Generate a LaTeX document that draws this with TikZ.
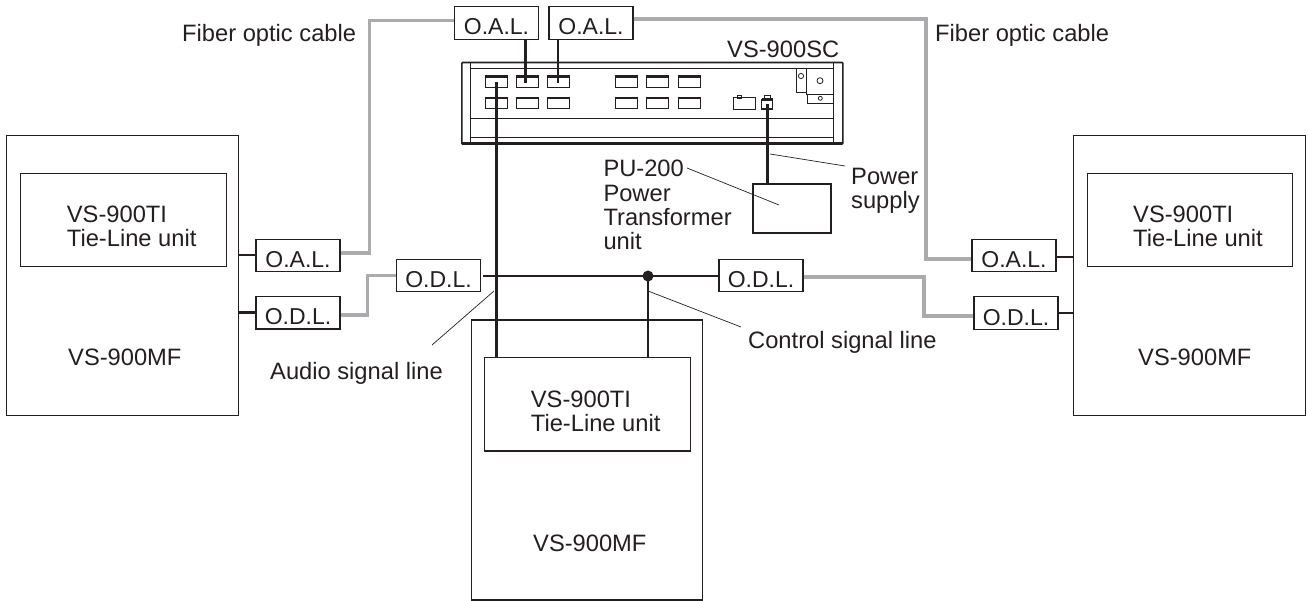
\documentclass[tikz,border=0pt]{standalone}
\usepackage{fontspec}
\setmainfont{Liberation Sans}
\definecolor{ink}{HTML}{231F20}
\definecolor{fiber}{HTML}{ABABAE}
\tikzset{
  every node/.style={text=ink},
  lab/.style={font=\fontsize{23.7}{28}\selectfont,anchor=base west,inner sep=0pt},
  big/.style={draw=ink,line width=1.1pt,inner sep=0pt,rectangle},
  link/.style={big,font=\fontsize{23}{27}\selectfont,minimum width=84pt,minimum height=32.5pt,text height=24pt,text depth=0pt,inner ysep=3.5pt,inner xsep=0pt},
  sig/.style={draw=ink,line width=2.6pt},
  fib/.style={draw=fiber,line width=3.6pt},
  lead/.style={draw=ink,line width=0.7pt},
  portb/.style={draw=ink,line width=1.1pt,minimum width=22pt,minimum height=11.3pt,inner sep=0pt,rectangle},
  thin/.style={draw=ink,line width=0.8pt}
}
\begin{document}
\begin{tikzpicture}[x=1pt,y=-1pt]
\useasboundingbox (0,0) rectangle (1308,601);
% big units
\node[big,minimum width=232pt,minimum height=280pt] (mfL) at (122.7,275.7) {};
\node[big,minimum width=205.7pt,minimum height=93.4pt] (tiL) at (123.2,220) {};
\node[big,minimum width=232pt,minimum height=280pt] (mfR) at (1189.7,275.7) {};
\node[big,minimum width=205.7pt,minimum height=93.4pt] (tiR) at (1189.9,220) {};
\node[big,minimum width=231.3pt,minimum height=280pt] (mfB) at (586.7,460) {};
\node[big,minimum width=205.7pt,minimum height=93.3pt] (tiB) at (587.2,404.3) {};
% links
\node[link] (oalT1) at (496.5,23) {O.A.L.};
\node[link] (oalT2) at (591,23) {O.A.L.};
\node[link] (oalL) at (298,255.5) {O.A.L.};
\node[link] (odlL) at (298,312.75) {O.D.L.};
\node[link] (odlM1) at (438.5,275.5) {O.D.L.};
\node[link] (odlM2) at (761,275.5) {O.D.L.};
\node[link] (oalR) at (1014,255.5) {O.A.L.};
\node[link] (odlR) at (1016,313) {O.D.L.};
\node[big,minimum width=78pt,minimum height=49pt] (pu) at (792,208.5) {};
% control unit
\node[draw=ink,line width=1.6pt,rounded corners=0.8pt,minimum width=381pt,minimum height=81.5pt,inner sep=0pt] (sc) at (652.3,103.3) {};
\draw[thin] (470.7,63) -- (470.7,143);
\draw[thin] (833.3,63) -- (833.3,143);
\draw[thin] (470.7,68.3) -- (833.3,68.3);
\draw[thin] (470.7,118.3) -- (833.3,118.3);
\draw[thin] (470.7,137.7) -- (833.3,137.7);
\draw[draw=ink,line width=2pt] (462,142.9) -- (843,142.9);
\foreach \n/\x in {1/496.2,2/527.5,3/558.5,4/626.8,5/657.8,6/689.2}{
  \node[portb] (p\n a) at (\x,81.7) {};
  \node[portb] (p\n b) at (\x,103.3) {};
  \draw[thin,line width=0.6pt] ([yshift=-1.6pt]p\n a.north west) -- ([yshift=-1.6pt]p\n a.north east);
  \draw[thin,line width=0.6pt] ([yshift=-1.6pt]p\n b.north west) -- ([yshift=-1.6pt]p\n b.north east);
}
\node[portb] (pw1) at (744.8,103.5) {};
\draw[thin] (737.3,98) rectangle (741.7,95);
\node[portb,minimum width=11pt,minimum height=9pt] (pw2) at (767.2,104.5) {};
\draw[thin] (764,100) -- (764,95.7) -- (770.7,95.7) -- (770.7,100);
\draw[thin,line width=0.6pt] (762,98) -- (772.5,98);
\draw[thin] (796.5,68.3) -- (796.5,92.7) -- (806,92.7);
\draw[thin] (806,68.3) -- (806,94) -- (833.3,94);
\draw[thin] (807.3,94) -- (807.3,103.3) -- (833.3,103.3);
\draw[thin] (801,76) circle (2.6);
\draw[thin] (820,80.7) circle (3);
\draw[thin] (820.3,98.3) circle (2);
% fibre cables
\draw[fib] (oalL.east) ++(0,-2.5) -- ++(29,0) |- (oalT1.west |- 0,20.5);
\draw[fib] (oalT2.east |- 0,19) -| (926,259) -- (oalR.west |- 0,259);
\draw[fib] (odlL.east) ++(0,2.5) -- ++(27,0) |- (odlM1.west);
\draw[fib] (odlM2.east) ++(0,1.5) -| (924,316) -- (odlR.west |- 0,316);
% signal lines
\coordinate (jn) at (648,276);
\draw[sig] (mfL.east |- 0,255) -- (oalL.west |- 0,255);
\draw[sig] (mfL.east |- odlL.west) -- (odlL.west);
\draw[sig] (oalR.east |- 0,257) -- (mfR.west |- 0,257);
\draw[sig] (odlR.east) -- (mfR.west |- odlR.east);
\draw[sig] (483,276) -- (jn) -- (odlM2.west |- jn);
\draw[sig] (jn) -- (jn |- tiB.north);
\draw[sig] (p1a.center) -- (p1a.center |- tiB.north);
\draw[sig] (525.3,39.3) -- (525.3,83);
\draw[sig] (558,39.3) -- (558,83);
\draw[sig] (pw2.center) -- (pw2.center |- pu.north);
\fill[ink] (jn) circle (5.5);
% texts
\node[lab] (t1) at (182,42) {Fiber optic cable};
\node[lab] (t2) at (935,42) {Fiber optic cable};
\node[lab] (t3) at (727,58) {VS-900SC};
\node[lab] (t4) at (66.7,222.3) {VS-900TI};
\node[lab] (t5) at (66.7,246.7) {Tie-Line unit};
\node[lab] (t6) at (1133,222.3) {VS-900TI};
\node[lab] (t7) at (1133,246.7) {Tie-Line unit};
\node[lab] (t8) at (530.7,407) {VS-900TI};
\node[lab] (t9) at (530.7,431.7) {Tie-Line unit};
\node[lab] (t10) at (68,365) {VS-900MF};
\node[lab] (t11) at (1138,365) {VS-900MF};
\node[lab] (t12) at (533,551.7) {VS-900MF};
\node[lab] (t13) at (603.3,176.7) {PU-200};
\node[lab] (t14) at (603.3,201.7) {Power};
\node[lab] (t15) at (603.3,226) {Transformer};
\node[lab] (t16) at (603.3,250) {unit};
\node[lab] (t17) at (851,185) {Power};
\node[lab] (t18) at (851,209) {supply};
\node[lab] (t19) at (748,348) {Control signal line};
\node[lab] (t20) at (270,379) {Audio signal line};
% leaders
\coordinate (a1) at (494,291); \coordinate (a2) at (432,345);
\coordinate (b1) at (648,291); \coordinate (b2) at (741,327);
\coordinate (c1) at (770,154); \coordinate (c2) at (845,166);
\coordinate (d1) at (687,168); \coordinate (d2) at (779,205);
\draw[lead] (a1) -- (a2);
\draw[lead] (b1) -- (b2);
\draw[lead] (c1) -- (c2);
\draw[lead] (d1) -- (d2);
\end{tikzpicture}
\end{document}
